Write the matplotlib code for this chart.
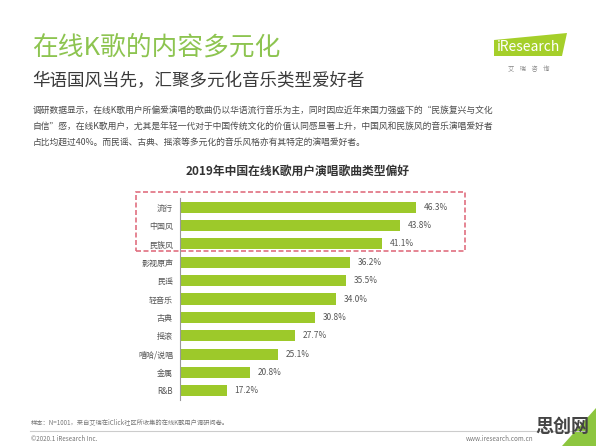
import matplotlib.pyplot as plt
from matplotlib.patches import Rectangle, Polygon

plt.rcParams['font.family'] = ['Noto Sans CJK SC', 'DejaVu Sans']

# 数据
categories = ['流行', '中国风', '民族风', '影视原声', '民谣', '轻音乐', '古典', '摇滚', '嘻哈/说唱', '金属', 'R&B']
values = [46.3, 43.8, 41.1, 36.2, 35.5, 34.0, 30.8, 27.7, 25.1, 20.8, 17.2]

W, H = 596, 446
fig = plt.figure(figsize=(W / 100, H / 100), dpi=100)
fig.patch.set_facecolor('white')

def fx(px):
    return px / W

def fy(py):
    return 1 - py / H

# 标题区
fig.text(fx(32), fy(48), '在线K歌的内容多元化', fontsize=18.5, color='#8DC450', va='center', ha='left')
fig.text(fx(32), fy(81), '华语国风当先，汇聚多元化音乐类型爱好者', fontsize=12.6, color='#3a3a3a', va='center', ha='left')
para = ['调研数据显示，在线K歌用户所偏爱演唱的歌曲仍以华语流行音乐为主，同时因应近年来国力强盛下的“民族复兴与文化',
        '自信”感，在线K歌用户，尤其是年轻一代对于中国传统文化的价值认同感显著上升，中国风和民族风的音乐演唱爱好者',
        '占比均超过40%。而民谣、古典、摇滚等多元化的音乐风格亦有其特定的演唱爱好者。']
for i, line in enumerate(para):
    fig.text(fx(33), fy(110 + i * 16.5), line, fontsize=6.3, color='#4a4a4a', va='center', ha='left')

# logo
logo = Polygon([[fx(494), fy(56)], [fx(562), fy(56)], [fx(567), fy(33)], [fx(494), fy(40)]],
               closed=True, transform=fig.transFigure, facecolor='#A5CF2A', edgecolor='none')
fig.patches.append(logo)
fig.text(fx(529), fy(47), 'iResearch', fontsize=10, color='white', va='center', ha='center')
fig.text(fx(529), fy(69), '艾    瑞    咨    询', fontsize=4.5, color='#888888', va='center', ha='center')

# 图表标题
fig.text(fx(298), fy(171), '2019年中国在线K歌用户演唱歌曲类型偏好', fontsize=8.5, fontweight='bold',
         color='#333333', va='center', ha='center')

# 柱状图
ax = fig.add_axes([fx(180), fy(400), fx(470) - fx(180), 202 / H])
y = list(range(len(categories)))
ax.barh(y, values, height=0.6, color='#9DC92A', left=0)
ax.set_xlim(10, 54.6)
ax.set_ylim(len(categories) - 0.5, -0.5)
ax.set_yticks(y)
ax.set_yticklabels(categories, fontsize=5.8, color='#555555')
ax.tick_params(axis='y', length=0, pad=5)
ax.set_xticks([])
for s in ['top', 'right', 'bottom']:
    ax.spines[s].set_visible(False)
ax.spines['left'].set_color('#999999')
ax.spines['left'].set_linewidth(0.8)
ax.patch.set_alpha(0)
for yi, v in zip(y, values):
    ax.text(v + 1.2, yi, f'{v:.1f}%', fontsize=6, color='#555555', va='center', ha='left')

# 红色虚线框
box = Rectangle((fx(136), fy(251)), fx(465) - fx(136), (251 - 192) / H, transform=fig.transFigure,
                fill=False, edgecolor='#E07080', linestyle=(0, (3, 1.5)), linewidth=1.2)
fig.patches.append(box)

# 页脚
fig.text(fx(31), fy(422), '样本：N=1001，来自艾瑞在iClick社区所收集的在线K歌用户调研问卷。', fontsize=4.5,
         color='#777777', va='center', ha='left')
fig.add_artist(plt.Line2D([fx(30), fx(585)], [fy(431), fy(431)], color='#cccccc', linewidth=0.8,
                          transform=fig.transFigure))
fig.text(fx(31), fy(439), '©2020.1 iResearch Inc.', fontsize=4.5, color='#777777', va='center', ha='left')
fig.text(fx(533), fy(439), 'www.iresearch.com.cn', fontsize=4.5, color='#777777', va='center', ha='right')

# 水印
corner = Polygon([[fx(596), fy(446)], [fx(562), fy(446)], [fx(596), fy(408)]], closed=True,
                 transform=fig.transFigure, facecolor='#8DC63F', edgecolor='none')
fig.patches.append(corner)
fig.text(fx(562), fy(426), '思创网', fontsize=13, fontweight='bold', color='#444444', va='center', ha='center')

fig.savefig('out.png', dpi=100)
